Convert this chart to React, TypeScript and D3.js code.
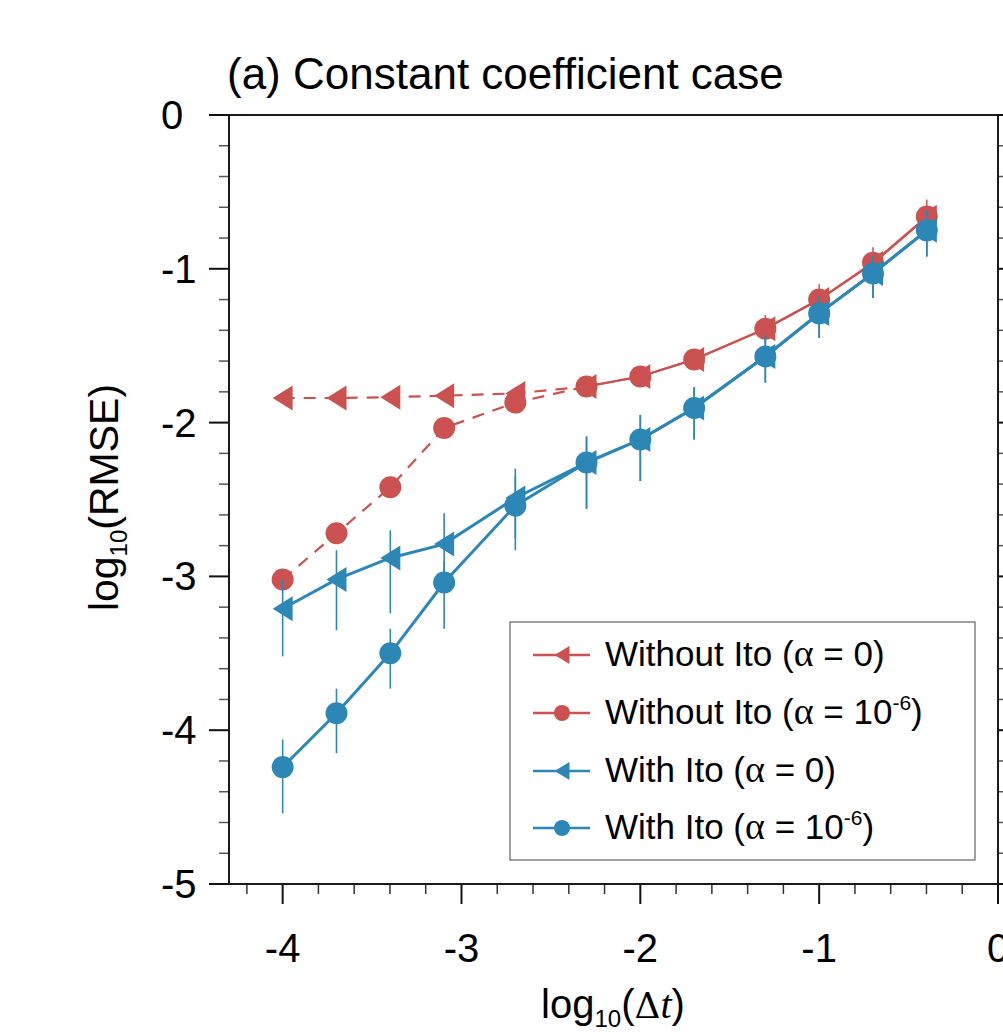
import React from "react";
import * as d3 from "d3";

// log10(dt) positions of the runs
const dtLog = [-4, -3.699, -3.398, -3.097, -2.699, -2.301, -2, -1.699, -1.301, -1, -0.699, -0.398];

// Without Ito
const noItoA0 = [-1.84, -1.84, -1.835, -1.825, -1.81, -1.765, -1.7, -1.59, -1.39, -1.2, -0.965, -0.665];
const noItoA6 = [-3.02, -2.72, -2.42, -2.035, -1.87, -1.765, -1.7, -1.59, -1.39, -1.2, -0.96, -0.66];
const noItoHi = [-3.01, -2.71, -2.41, -2.03, -1.86, -1.755, -1.68, -1.56, -1.3, -1.1, -0.86, -0.55];
const noItoLo = [-3.03, -2.73, -2.43, -2.04, -1.88, -1.775, -1.72, -1.62, -1.48, -1.3, -1.07, -0.78];

// With Ito
const itoA0 = [-3.21, -3.02, -2.88, -2.79, -2.49, -2.26, -2.11, -1.905, -1.57, -1.29, -1.03, -0.75];
const itoA0Hi = [-3.02, -2.83, -2.7, -2.59, -2.3, -2.09, -1.95, -1.77, -1.43, -1.18, -0.91, -0.62];
const itoA0Lo = [-3.52, -3.35, -3.24, -3.08, -2.75, -2.56, -2.38, -2.11, -1.74, -1.45, -1.19, -0.92];
const itoA6 = [-4.24, -3.89, -3.5, -3.04, -2.54, -2.26, -2.11, -1.905, -1.57, -1.29, -1.03, -0.75];
const itoA6Hi = [-4.06, -3.73, -3.34, -2.9, -2.35, -2.09, -1.95, -1.77, -1.43, -1.18, -0.91, -0.62];
const itoA6Lo = [-4.54, -4.15, -3.73, -3.34, -2.83, -2.56, -2.38, -2.11, -1.74, -1.45, -1.19, -0.92];

const xTicks = [-4, -3, -2, -1, 0];
const yTicks = [0, -1, -2, -3, -4, -5];

const RED = "#cb5250";
const BLUE = "#2c87b7";
const FONT = "'Liberation Sans', Arial, Helvetica, sans-serif";

const W = 1003;
const H = 1032;
const L = 229, R = 998, T = 115, B = 884;

const x = d3.scaleLinear().domain([-4.3, 0]).range([L, R]);
const y = d3.scaleLinear().domain([0, -5]).range([T, B]);

const tri = (cx: number, cy: number, w = 10, h = 12.5) =>
  `M${cx - w},${cy}L${cx + w},${cy - h}L${cx + w},${cy + h}Z`;

const lineGen = d3
  .line<[number, number]>()
  .x((d) => x(d[0]))
  .y((d) => y(d[1]));

const App = () => {
  const xMinor = d3.range(-4.2, 0.001, 0.2).filter((v) => Math.abs(v - Math.round(v)) > 0.01);
  const yMinor = d3.range(0, -5.001, -0.2).filter((v) => Math.abs(v - Math.round(v)) > 0.01);

  const pts = (vals: number[]) => dtLog.map((d, i) => [d, vals[i]] as [number, number]);

  // red segments: dashed for the small dt runs, solid from -2.3 on
  const redSegs = (vals: number[]) => {
    const p = pts(vals);
    return {
      dashed: lineGen(p.slice(0, 6)),
      solid: lineGen(p.slice(5)),
    };
  };
  const r0 = redSegs(noItoA0);
  const r6 = redSegs(noItoA6);

  const legendRows = [
    { color: RED, marker: "tri", text: "Without Ito", exp: false },
    { color: RED, marker: "circ", text: "Without Ito", exp: true },
    { color: BLUE, marker: "tri", text: "With Ito", exp: false },
    { color: BLUE, marker: "circ", text: "With Ito", exp: true },
  ];
  const rowY = [655, 713, 771, 828];

  return (
    <svg width={W} height={H} style={{ position: "absolute", left: 0, top: 0, background: "#fff" }} fontFamily={FONT}>
      <rect width={W} height={H} fill="#fff" />

      {/* title */}
      <text x={227} y={89} fontSize={44}>(a) Constant coefficient case</text>

      {/* y ticks left */}
      {yMinor.map((v) => (
        <line key={"ym" + v} x1={L - 10} x2={L} y1={y(v)} y2={y(v)} stroke="#555" strokeWidth={1.5} />
      ))}
      {yTicks.map((v) => (
        <line key={"yM" + v} x1={L - 20} x2={L} y1={y(v)} y2={y(v)} stroke="#111" strokeWidth={2} />
      ))}
      {/* y ticks right */}
      {yMinor.map((v) => (
        <line key={"yr" + v} x1={R} x2={R + 10} y1={y(v)} y2={y(v)} stroke="#555" strokeWidth={1.5} />
      ))}
      {yTicks.map((v) => (
        <line key={"yR" + v} x1={R} x2={R + 20} y1={y(v)} y2={y(v)} stroke="#111" strokeWidth={2} />
      ))}
      {/* x ticks bottom */}
      {xMinor.map((v) => (
        <line key={"xm" + v} x1={x(v)} x2={x(v)} y1={B} y2={B + 10} stroke="#333" strokeWidth={1.5} />
      ))}
      {xTicks.map((v) => (
        <line key={"xM" + v} x1={x(v)} x2={x(v)} y1={B} y2={B + 20} stroke="#111" strokeWidth={2} />
      ))}

      {/* frame */}
      <rect x={L} y={T} width={R - L} height={B - T} fill="none" stroke="#1a1a1a" strokeWidth={2} />

      {/* tick labels */}
      {yTicks.map((v) => (
        <text key={"yl" + v} x={161} y={y(v) + 14} fontSize={40}>
          {v === 0 ? "0" : "-" + Math.abs(v)}
        </text>
      ))}
      {xTicks.map((v) => (
        <text key={"xl" + v} x={x(v)} y={962} fontSize={40} textAnchor="middle">
          {v === 0 ? "0" : "-" + Math.abs(v)}
        </text>
      ))}

      {/* axis titles */}
      <text x={613} y={1018} fontSize={40} textAnchor="middle">
        log
        <tspan fontSize={24} dy={9}>10</tspan>
        <tspan dy={-9}>(</tspan>
        <tspan fontFamily="'DejaVu Serif', serif" fontWeight={300} fontSize={36}>Δ</tspan>
        <tspan fontFamily="'Liberation Serif', serif" fontStyle="italic">t</tspan>
        <tspan>)</tspan>
      </text>
      <text transform={`translate(118,${(T + B) / 2 - 2}) rotate(-90)`} fontSize={41} textAnchor="middle">
        log
        <tspan fontSize={24} dy={9}>10</tspan>
        <tspan dy={-9}>(RMSE)</tspan>
      </text>

      {/* red lines */}
      <path d={r0.dashed ?? ""} fill="none" stroke={RED} strokeWidth={2.2} strokeDasharray="12,9" />
      <path d={r0.solid ?? ""} fill="none" stroke={RED} strokeWidth={2.2} />
      <path d={r6.dashed ?? ""} fill="none" stroke={RED} strokeWidth={2.2} strokeDasharray="12,9" />
      <path d={r6.solid ?? ""} fill="none" stroke={RED} strokeWidth={2.2} />

      {/* red error bars */}
      {dtLog.map((d, i) => (
        <line key={"re" + i} x1={x(d)} x2={x(d)} y1={y(noItoHi[i])} y2={y(noItoLo[i])} stroke={RED} strokeWidth={1.5} />
      ))}
      {/* red markers */}
      {dtLog.map((d, i) => (
        <path key={"rt" + i} d={tri(x(d), y(noItoA0[i]))} fill={RED} />
      ))}
      {dtLog.map((d, i) => (
        <circle key={"rc" + i} cx={x(d)} cy={y(noItoA6[i])} r={11} fill={RED} />
      ))}

      {/* blue lines */}
      <path d={lineGen(pts(itoA0)) ?? ""} fill="none" stroke={BLUE} strokeWidth={3} />
      <path d={lineGen(pts(itoA6)) ?? ""} fill="none" stroke={BLUE} strokeWidth={3} />

      {/* blue error bars */}
      {dtLog.map((d, i) => (
        <line key={"be0" + i} x1={x(d)} x2={x(d)} y1={y(itoA0Hi[i])} y2={y(itoA0Lo[i])} stroke={BLUE} strokeWidth={1.6} />
      ))}
      {dtLog.map((d, i) => (
        <line key={"be6" + i} x1={x(d)} x2={x(d)} y1={y(itoA6Hi[i])} y2={y(itoA6Lo[i])} stroke={BLUE} strokeWidth={1.6} />
      ))}

      {/* blue markers */}
      {dtLog.map((d, i) => (
        <path key={"bt" + i} d={tri(x(d), y(itoA0[i]))} fill={BLUE} />
      ))}
      {dtLog.map((d, i) => (
        <circle key={"bc" + i} cx={x(d)} cy={y(itoA6[i])} r={11} fill={BLUE} />
      ))}

      {/* legend */}
      <rect x={510} y={622} width={465} height={238} fill="#fff" stroke="#444" strokeWidth={1} />
      {legendRows.map((row, i) => {
        const cy = rowY[i];
        return (
          <g key={"lg" + i}>
            <line x1={533} x2={590} y1={cy} y2={cy} stroke={row.color} strokeWidth={2.5} />
            {row.marker === "tri" ? (
              <path d={tri(562, cy, 7.5, 9)} fill={row.color} />
            ) : (
              <circle cx={562} cy={cy} r={8} fill={row.color} />
            )}
            <text x={605} y={cy + 11} fontSize={35}>
              {row.text + " ("}
              <tspan fontFamily="'Liberation Serif', serif" fontSize={38}>α</tspan>
              {row.exp ? " = 10" : " = 0)"}
              {row.exp ? (
                <>
                  <tspan fontSize={21} dy={-14}>-6</tspan>
                  <tspan dy={14}>)</tspan>
                </>
              ) : null}
            </text>
          </g>
        );
      })}
    </svg>
  );
};

export default App;
